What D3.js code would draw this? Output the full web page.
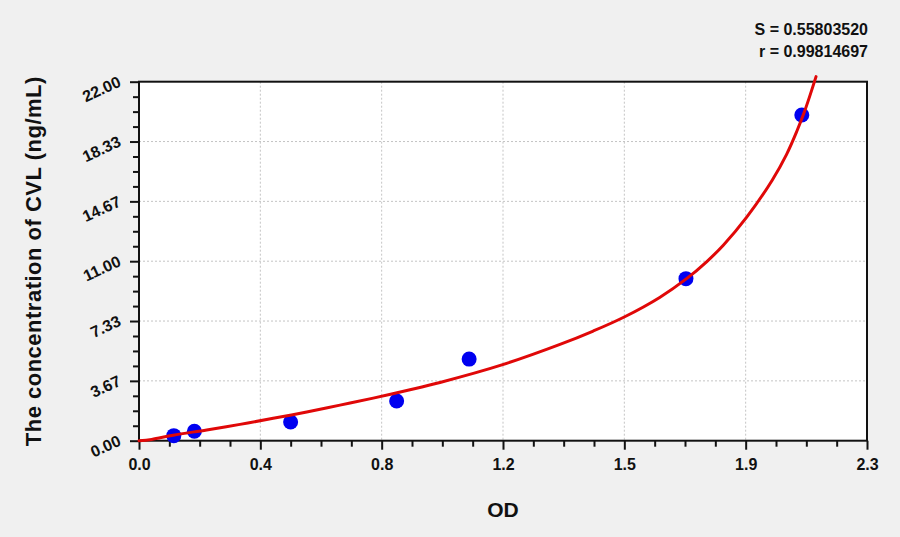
<!DOCTYPE html>
<html><head><meta charset="utf-8">
<script src="https://cdn.jsdelivr.net/npm/d3@7"></script>
<style>body{margin:0;background:#f0f0f0;}svg{display:block;}</style>
</head><body>
<svg id="c" width="900" height="537"></svg>
<script>
// Data
const pointsOD   = [0.110, 0.175, 0.479, 0.814, 1.043, 1.728, 2.094];
const pointsConc = [0.31, 0.58, 1.15, 2.43, 5.00, 9.93, 19.96];
const curveOD    = [0, 0.040, 0.108, 0.214, 0.319, 0.424, 0.530, 0.635, 0.740, 0.846, 0.951, 1.149, 1.330, 1.435, 1.533, 1.645, 1.730, 1.794, 1.846, 1.920, 2.000, 2.046, 2.078, 2.104, 2.139];
const curveConc  = [0, 0.08, 0.34, 0.66, 1.00, 1.37, 1.76, 2.18, 2.61, 3.08, 3.57, 4.66, 5.90, 6.72, 7.58, 8.78, 9.93, 10.98, 11.98, 13.70, 15.95, 17.55, 18.95, 20.25, 22.31];
const xTickLabels = ["0.0","0.4","0.8","1.2","1.5","1.9","2.3"];
const yTickLabels = ["0.00","3.67","7.33","11.00","14.67","18.33","22.00"];
const xMax = 2.3, yMax = 22;
const statLines = ["S = 0.55803520", "r = 0.99814697"];
const xTitle = "OD";
const yTitle = "The concentration of CVL (ng/mL)";

const svg = d3.select("#c");
const L = 139, R = 867, T = 81.7, B = 440.7;
const x = d3.scaleLinear().domain([0, xMax]).range([L, R]);
const y = d3.scaleLinear().domain([0, yMax]).range([B, T]);
const font = "'Liberation Sans', Arial, sans-serif";

svg.append("rect").attr("x",0).attr("y",0).attr("width",900).attr("height",537).attr("fill","#f0f0f0");
svg.append("rect").attr("x",L).attr("y",T).attr("width",R-L).attr("height",B-T).attr("fill","#fff");

const xMajor = xTickLabels.map((d,i)=> i*xMax/6);
const yMajor = yTickLabels.map((d,i)=> i*yMax/6);
const xMinor = d3.range(0,25).map(i=> i*xMax/24).filter((d,i)=> i%4!==0);
const yMinor = d3.range(0,25).map(i=> i*yMax/24).filter((d,i)=> i%4!==0);

// grid
const g = svg.append("g");
g.selectAll(".vg").data(xMajor.slice(1,-1)).enter().append("line")
  .attr("x1",d=>x(d)).attr("x2",d=>x(d)).attr("y1",T).attr("y2",B)
  .attr("stroke","#c4c4c4").attr("stroke-width",1).attr("stroke-dasharray","2,2");
g.selectAll(".hg").data(yMajor.slice(1,-1)).enter().append("line")
  .attr("y1",d=>y(d)).attr("y2",d=>y(d)).attr("x1",L).attr("x2",R)
  .attr("stroke","#c4c4c4").attr("stroke-width",1).attr("stroke-dasharray","2,2");

// axes
const xAxis = d3.axisBottom(x).tickValues(xMajor).tickSize(9).tickFormat((d,i)=>xTickLabels[i]);
const xAxisMinor = d3.axisBottom(x).tickValues(xMinor).tickSize(6).tickFormat("");
const yAxis = d3.axisLeft(y).tickValues(yMajor).tickSize(9).tickFormat((d,i)=>yTickLabels[i]);
const yAxisMinor = d3.axisLeft(y).tickValues(yMinor).tickSize(6).tickFormat("");

function styleAxis(sel){
  sel.select(".domain").remove();
  sel.selectAll(".tick line").attr("stroke","#111").attr("stroke-width",2);
  sel.selectAll("text").attr("fill","#111").style("font-family",font).style("font-weight","bold").style("font-size","16px");
}
const gx = svg.append("g").attr("transform",`translate(0,${B})`).call(xAxis).call(styleAxis);
gx.selectAll("text").attr("dy",null).attr("y",null).attr("transform","translate(0,29.5)");
svg.append("g").attr("transform",`translate(0,${B})`).call(xAxisMinor).call(styleAxis);
const gy = svg.append("g").attr("transform",`translate(${L},0)`).call(yAxis).call(styleAxis);
gy.selectAll("text").attr("x",null).attr("dy",null)
  .attr("text-anchor","end")
  .attr("transform","translate(-17,3.5) rotate(-25)");
svg.append("g").attr("transform",`translate(${L},0)`).call(yAxisMinor).call(styleAxis);

// frame
svg.append("rect").attr("x",L).attr("y",T).attr("width",R-L).attr("height",B-T)
  .attr("fill","none").attr("stroke","#111").attr("stroke-width",2);

// points
svg.selectAll(".pt").data(pointsOD.map((d,i)=>({x:d,y:pointsConc[i]}))).enter().append("circle")
  .attr("cx",d=>x(d.x)).attr("cy",d=>y(d.y)).attr("r",7.5).attr("fill","#0000f0");

// curve
const curveData = curveOD.map((d,i)=>({x:d,y:curveConc[i]}));
const line = d3.line().x(d=>x(d.x)).y(d=>y(d.y)).curve(d3.curveCatmullRom.alpha(0.5));
svg.append("path").datum(curveData).attr("d",line).attr("fill","none")
  .attr("stroke","#e00808").attr("stroke-width",3).attr("stroke-linecap","round");

// stats
svg.selectAll(".st").data(statLines).enter().append("text")
  .attr("x",868).attr("y",(d,i)=>35+i*22.3).attr("text-anchor","end")
  .style("font-family",font).style("font-weight","bold").style("font-size","16px").attr("fill","#111")
  .text(d=>d);

// titles
svg.append("text").attr("x",(L+R)/2).attr("y",517).attr("text-anchor","middle")
  .style("font-family",font).style("font-weight","bold").style("font-size","21px").attr("fill","#111").text(xTitle);
svg.append("text").attr("transform",`translate(41,${(T+B)/2}) rotate(-90)`).attr("text-anchor","middle")
  .style("font-family",font).style("font-weight","bold").style("font-size","22px").style("letter-spacing","0.5px")
  .attr("fill","#111").text(yTitle);
</script>
</body></html>
